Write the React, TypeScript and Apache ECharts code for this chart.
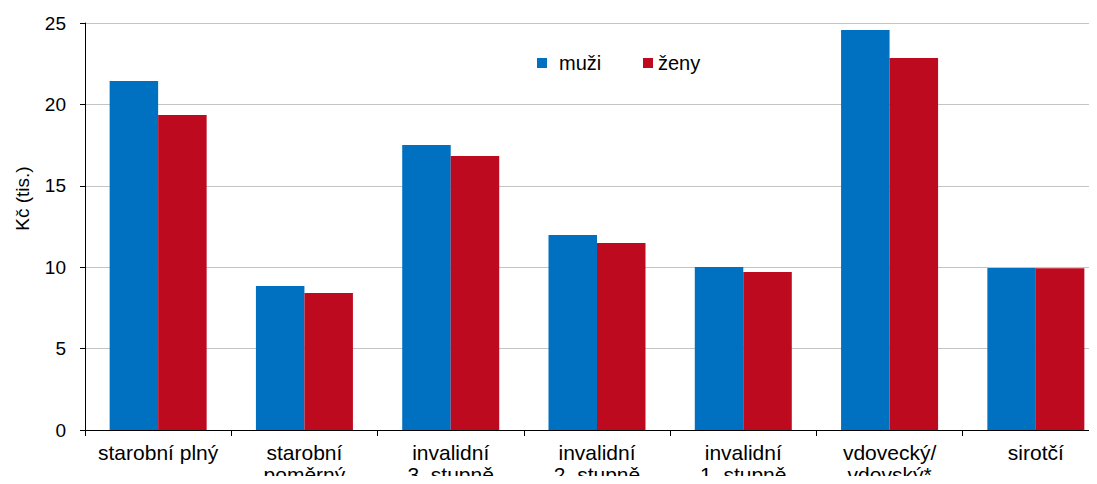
import React, { useEffect, useRef } from "react";
import * as echarts from "echarts";

const categories = [
  "starobní plný",
  "starobní\npoměrný",
  "invalidní\n3. stupně",
  "invalidní\n2. stupně",
  "invalidní\n1. stupně",
  "vdovecký/\nvdovský*",
  "sirotčí",
];
const muzi = [21.44, 8.85, 17.5, 11.98, 10.01, 24.57, 9.95];
const zeny = [19.35, 8.41, 16.83, 11.49, 9.7, 22.85, 9.93];
const yTicks = [0, 5, 10, 15, 20, 25];

const BLUE = "#0070C0";
const RED = "#BE0A1E";
const FONT = "'Liberation Sans', Arial, sans-serif";

export default function App() {
  const ref = useRef<HTMLDivElement>(null);
  useEffect(() => {
    const chart = echarts.init(ref.current!, null, { renderer: "svg" });
    chart.setOption({
      animation: false,
      grid: {
        left: 85,
        top: 23,
        width: 1024,
        bottom: 54,
        containLabel: false,
        outerBoundsMode: "none",
      },
      legend: [
        {
          data: [{ name: "muži", icon: "rect" }],
          left: 532,
          top: 48,
          itemWidth: 10,
          itemHeight: 10,
          textStyle: { fontFamily: FONT, fontSize: 20, color: "#000", padding: [0, 0, 0, 7] },
        },
        {
          data: [{ name: "ženy", icon: "rect" }],
          left: 638,
          top: 48,
          itemWidth: 10,
          itemHeight: 10,
          textStyle: { fontFamily: FONT, fontSize: 20, color: "#000", padding: [0, 0, 0, 0] },
        },
      ],
      xAxis: {
        type: "category",
        data: categories,
        axisLine: { lineStyle: { color: "#000", width: 1 } },
        axisTick: { show: true, length: 6, lineStyle: { color: "#000" } },
        axisLabel: {
          fontFamily: FONT,
          fontSize: 21,
          color: "#000",
          lineHeight: 22,
          margin: 11,
          interval: 0,
        },
      },
      yAxis: {
        type: "value",
        min: 0,
        max: 25,
        interval: 5,
        name: "Kč (tis.)",
        nameLocation: "middle",
        nameGap: 53,
        nameTextStyle: {
          fontFamily: FONT,
          fontSize: 19,
          color: "#000",
          padding: [0, 0, 0, 56],
        },
        axisLine: { show: true, lineStyle: { color: "#000", width: 1 } },
        axisTick: { show: true, length: 5, lineStyle: { color: "#000" } },
        axisLabel: {
          fontFamily: FONT,
          fontSize: 19,
          color: "#000",
          margin: 19,
          formatter: (v: number) => (yTicks.includes(v) ? String(v) : ""),
        },
        splitLine: { lineStyle: { color: "#c4c4c4", width: 1 } },
      },
      series: [
        {
          name: "muži",
          type: "bar",
          data: muzi,
          barWidth: 48.5,
          barGap: "0%",
          itemStyle: { color: BLUE },
        },
        {
          name: "ženy",
          type: "bar",
          data: zeny,
          barWidth: 48.5,
          barGap: "0%",
          itemStyle: { color: RED },
        },
      ],
    });
    return () => chart.dispose();
  }, []);
  return (
    <div style={{ width: 1097, height: 484, margin: -8, overflow: "hidden" }}>
      <div ref={ref} style={{ width: 1097, height: 484 }} />
    </div>
  );
}
